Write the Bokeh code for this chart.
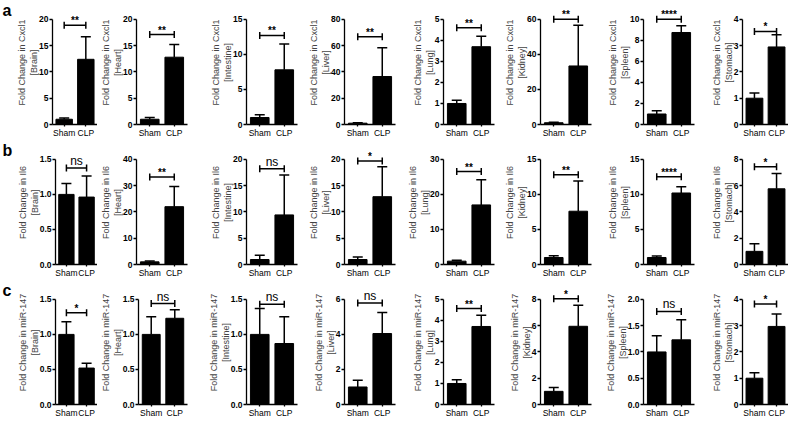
import numpy as np
from bokeh.plotting import figure
from bokeh.models import (Range1d, FixedTicker, Whisker, TeeHead, ColumnDataSource,
                          NumeralTickFormatter)
from bokeh.layouts import column, row
from bokeh.embed import file_html
from bokeh.resources import INLINE
from bokeh.core.properties import value

# ---------------- data ----------------
groups = ["Sham", "CLP"]
organs = ["Brain", "Heart", "Intestine", "Liver", "Lung", "Kidney", "Spleen", "Stomach"]
genes = ["Cxcl1", "Il6", "miR-147"]
row_letters = ["a", "b", "c"]

# row a : Cxcl1
cxcl1_sham = [1.0, 1.0, 1.0, 1.0, 1.0, 1.0, 1.0, 1.0]
cxcl1_sham_top = [1.25, 1.35, 1.4, 1.3, 1.15, 1.3, 1.3, 1.2]
cxcl1_clp = [12.4, 12.8, 7.8, 36.5, 3.7, 33.4, 8.75, 2.95]
cxcl1_clp_top = [16.7, 15.2, 11.5, 58.3, 4.2, 56.6, 9.4, 3.41]
cxcl1_ymax = [20, 20, 15, 80, 5, 60, 10, 4]
cxcl1_step = [5, 5, 5, 20, 1, 20, 2, 1]
cxcl1_sig = ["**", "**", "**", "**", "**", "**", "****", "*"]
cxcl1_sig_y = [18.9, 17.1, 12.7, 66.7, 4.6, 60.0, 10.0, 3.54]

# row b : Il6
il6_sham = [1.0, 1.0, 0.95, 0.95, 0.95, 1.0, 1.0, 1.0]
il6_sham_top = [1.156, 1.3, 1.76, 1.45, 1.2, 1.25, 1.2, 1.58]
il6_clp = [0.962, 22.0, 9.43, 12.9, 17.0, 7.6, 10.2, 5.76]
il6_clp_top = [1.264, 29.7, 17.0, 18.6, 24.2, 11.9, 11.1, 6.92]
il6_ymax = [1.5, 40, 20, 20, 30, 15, 15, 8]
il6_step = [0.5, 10, 5, 5, 10, 5, 5, 2]
il6_sig = ["ns", "**", "ns", "*", "**", "**", "****", "*"]
il6_sig_y = [1.377, 33.3, 18.2, 19.7, 26.5, 12.8, 12.5, 7.44]

# row c : miR-147
mir_sham = [1.0, 1.0, 1.0, 1.0, 1.0, 1.0, 1.0, 1.0]
mir_sham_top = [1.18, 1.25, 1.37, 1.38, 1.18, 1.3, 1.31, 1.21]
mir_clp = [0.52, 1.23, 0.87, 4.05, 3.71, 5.95, 1.23, 2.97]
mir_clp_top = [0.59, 1.35, 1.25, 5.25, 4.24, 7.55, 1.61, 3.44]
mir_ymax = [1.5, 1.5, 1.5, 6, 5, 8, 2.0, 4]
mir_step = [0.5, 0.5, 0.5, 2, 1, 2, 0.5, 1]
mir_sig = ["*", "ns", "ns", "ns", "**", "*", "ns", "*"]
mir_sig_y = [1.31, 1.44, 1.43, 5.79, 4.56, 8.05, 1.77, 3.82]

rows_data = [
    (cxcl1_sham, cxcl1_sham_top, cxcl1_clp, cxcl1_clp_top, cxcl1_ymax, cxcl1_step, cxcl1_sig, cxcl1_sig_y),
    (il6_sham, il6_sham_top, il6_clp, il6_clp_top, il6_ymax, il6_step, il6_sig, il6_sig_y),
    (mir_sham, mir_sham_top, mir_clp, mir_clp_top, mir_ymax, mir_step, mir_sig, mir_sig_y),
]

# ---------------- layout ----------------
FONT = "Liberation Sans"
ROW_H = 140
BOTTOM = 15
FRAME_H = ROW_H - BOTTOM
TICK_SPAN = 106  # px from 0 to top tick
HEAD = FRAME_H / TICK_SPAN
LETTER_W = 14
left_border = [34, 39, 44, 44, 44, 44, 44, 44]
frame_w = [49, 51, 51, 51, 51, 51, 51, 46]
right_border = [0, 15, 3, 4, 2, 8, 4, 0]
X_OFF = 0.54
BAR_W = 0.76


def letter_strip(ri):
    p = figure(width=LETTER_W, height=ROW_H, x_range=Range1d(0, 1), y_range=Range1d(0, 1),
               min_border_left=0, min_border_right=0, min_border_top=0, min_border_bottom=0,
               output_backend="svg", toolbar_location=None, tools="", title=None)
    p.outline_line_color = None
    p.axis.visible = False
    p.grid.visible = False
    p.text(x=[0.0], y=[1.0], text=[row_letters[ri]], text_font=value(FONT),
           text_font_size="16px", text_font_style="bold", text_baseline="top",
           text_align="left", text_color="black", x_offset=2, y_offset=1)
    return p


def make_panel(ri, ci):
    sham, sham_top, clp, clp_top, ymax, step, sig, sig_y = rows_data[ri]
    L = left_border[ci]
    R = right_border[ci]
    ytop = ymax[ci] * HEAD
    p = figure(width=L + frame_w[ci] + R, height=ROW_H,
               min_border_left=L, min_border_right=R, min_border_top=0, min_border_bottom=BOTTOM,
               x_range=Range1d(0, 2.08), y_range=Range1d(0, ytop),
               output_backend="svg", toolbar_location=None, tools="", title=None)
    p.outline_line_color = None
    p.xgrid.visible = False
    p.ygrid.visible = False

    xs = [i + X_OFF for i in range(len(groups))]
    means = [sham[ci], clp[ci]]
    tops = [sham_top[ci], clp_top[ci]]

    src = ColumnDataSource(dict(x=xs, lower=means, upper=tops))
    p.add_layout(Whisker(source=src, base="x", lower="lower", upper="upper",
                         line_color="black", line_width=1.5, lower_head=None,
                         upper_head=TeeHead(size=10, line_color="black", line_width=1.5)))
    p.vbar(x=xs, top=means, bottom=0, width=BAR_W, fill_color="black", line_color="black")

    # significance bracket
    h = sig_y[ci]
    p.segment(x0=[xs[0]], y0=[h], x1=[xs[1]], y1=[h], line_color="black", line_width=1.5)
    p.scatter(x=xs, y=[h, h], marker="dash", angle=np.pi / 2, size=7,
              line_color="black", line_width=1.5)
    is_ns = sig[ci] == "ns"
    p.text(x=[(xs[0] + xs[1]) / 2], y=[h], text=[sig[ci]],
           text_font=value(FONT), text_font_size="12px" if is_ns else "10px",
           text_font_style="normal" if is_ns else "bold",
           text_align="center", text_baseline="bottom", text_color="black",
           y_offset=0 if is_ns else 1)

    # y axis
    ticks = list(np.arange(0, ymax[ci] + step[ci] / 2, step[ci]))
    ya = p.yaxis[0]
    ya.ticker = FixedTicker(ticks=ticks)
    ya.bounds = (0, ymax[ci])
    if step[ci] < 1:
        ya.formatter = NumeralTickFormatter(format="0.0")
    ya.axis_label = "Fold Change in %s\n[%s]" % (genes[ri], organs[ci])
    ya.axis_label_text_font = FONT
    ya.axis_label_text_font_size = "9px"
    ya.axis_label_text_font_style = "normal"
    ya.axis_label_standoff = -3

    # x axis
    xa = p.xaxis[0]
    xa.ticker = FixedTicker(ticks=xs)
    xa.major_label_overrides = {x: g for x, g in zip(xs, groups)}

    for ax in (xa, ya):
        ax.axis_line_width = 1.3
        ax.major_tick_line_width = 1.3
        ax.major_tick_out = 3
        ax.major_tick_in = 0
        ax.minor_tick_line_color = None
        ax.major_label_text_font = FONT
        ax.major_label_text_font_size = "8.5px"
        ax.major_label_standoff = 1
        ax.major_label_text_color = "black"
        ax.axis_line_color = "black"
        ax.major_tick_line_color = "black"
    ya.major_label_text_font_style = "bold"
    xa.major_tick_out = 2
    return p


rows = []
for ri in range(3):
    rows.append(row(letter_strip(ri), *[make_panel(ri, ci) for ci in range(len(organs))]))

layout = column(*rows)

open("out.html", "w").write(file_html(layout, INLINE))
